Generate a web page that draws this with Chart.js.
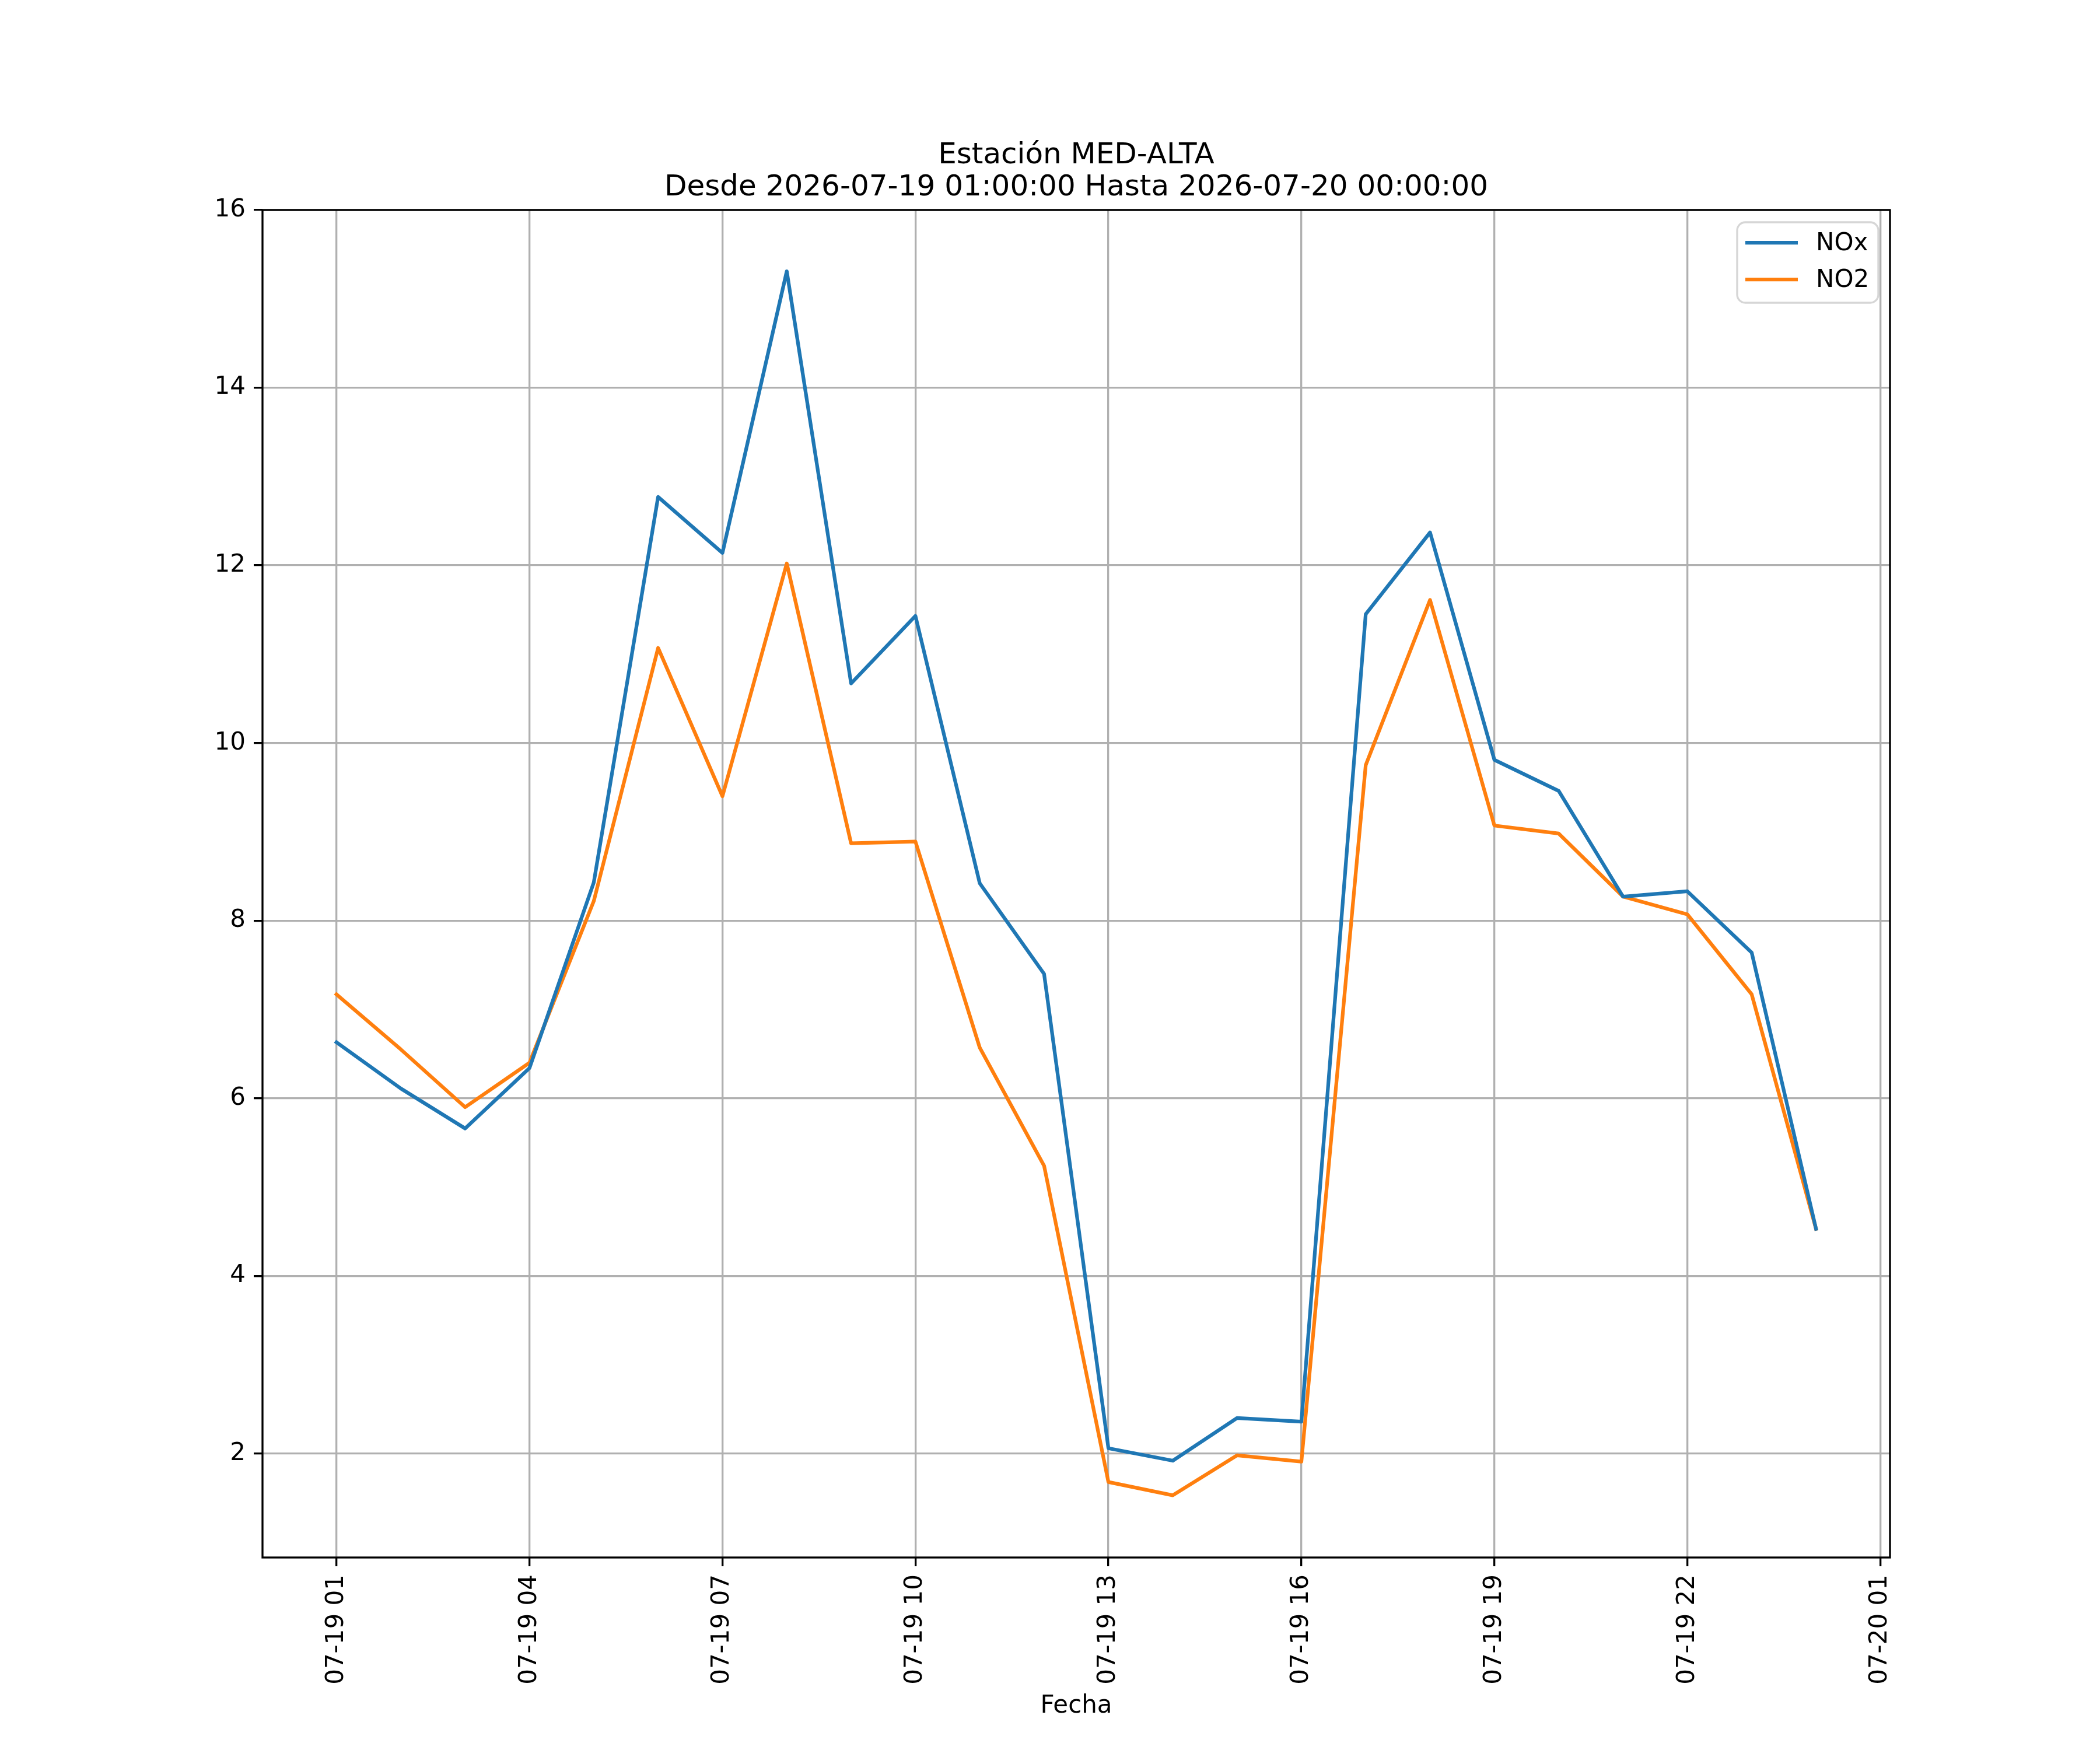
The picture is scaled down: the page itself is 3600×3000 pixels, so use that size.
<!DOCTYPE html>
<html>
<head>
<meta charset="utf-8">
<script src="https://cdn.jsdelivr.net/npm/chart.js@4/dist/chart.umd.min.js"></script>
<style>
  html, body { margin: 0; padding: 0; background: #fff; }
  canvas { display: block; }
</style>
</head>
<body>
<canvas id="chart" width="3600" height="3000" style="width:3600px;height:3000px"></canvas>
<script>
// hours since 2026-07-19 00:00
const horas = [1, 2, 3, 4, 5, 6, 7, 8, 9, 10, 11, 12, 13, 14, 15, 16, 17, 18, 19, 20, 21, 22, 23, 24];
const nox = [6.63, 6.11, 5.66, 6.34, 8.43, 12.77, 12.14, 15.31, 10.67, 11.43, 8.42, 7.40,
             2.06, 1.92, 2.40, 2.36, 11.45, 12.37, 9.81, 9.46, 8.27, 8.33, 7.64, 4.53];
const no2 = [7.17, 6.55, 5.90, 6.40, 8.22, 11.07, 9.40, 12.02, 8.87, 8.89, 6.57, 5.24,
             1.68, 1.53, 1.98, 1.91, 9.75, 11.61, 9.07, 8.98, 8.27, 8.07, 7.17, 4.53];
const tickHoras = [1, 4, 7, 10, 13, 16, 19, 22, 25];
const tickLabels = ["07-19 01", "07-19 04", "07-19 07", "07-19 10", "07-19 13",
                    "07-19 16", "07-19 19", "07-19 22", "07-20 01"];
const yTicks = [2, 4, 6, 8, 10, 12, 14, 16];
const titleLines = ["Estación MED-ALTA", "Desde 2026-07-19 01:00:00 Hasta 2026-07-20 00:00:00"];

const FONT = "'DejaVu Sans', sans-serif";
const LW = 3.33;

const toPoints = vals => horas.map((h, i) => ({ x: h, y: vals[i] }));

const framePlugin = {
  id: "frame",
  afterDatasetsDraw(chart) {
    const { ctx, chartArea: a } = chart;
    ctx.save();
    ctx.strokeStyle = "#000";
    ctx.lineWidth = LW;
    ctx.lineJoin = "miter";
    ctx.strokeRect(a.left, a.top, a.right - a.left, a.bottom - a.top);

    // legend, upper right
    const items = chart.data.datasets;
    const bx = 2978, by = 381, bw = 242, bh = 138, r = 14;
    ctx.fillStyle = "rgba(255,255,255,0.8)";
    ctx.strokeStyle = "#d6d6d6";
    ctx.lineWidth = LW;
    ctx.beginPath();
    ctx.roundRect(bx, by, bw, bh, r);
    ctx.fill();
    ctx.stroke();
    ctx.font = "42px " + FONT;
    ctx.textBaseline = "middle";
    ctx.textAlign = "left";
    items.forEach((ds, i) => {
      const y = 416 + i * 63;
      ctx.strokeStyle = ds.borderColor;
      ctx.lineWidth = 6.25;
      ctx.lineCap = "butt";
      ctx.beginPath();
      ctx.moveTo(2992, y);
      ctx.lineTo(3082, y);
      ctx.stroke();
      ctx.fillStyle = "#000";
      ctx.fillText(ds.label, 3113, y + 2);
    });

    // title
    ctx.font = "50px " + FONT;
    ctx.textAlign = "center";
    ctx.textBaseline = "alphabetic";
    const cx = (a.left + a.right) / 2;
    ctx.fillText(titleLines[0], cx, 280);
    ctx.fillText(titleLines[1], cx, 335);
    ctx.restore();
  }
};

new Chart(document.getElementById("chart"), {
  type: "line",
  data: {
    datasets: [
      { label: "NOx", data: toPoints(nox), borderColor: "#1f77b4" },
      { label: "NO2", data: toPoints(no2), borderColor: "#ff7f0e" }
    ]
  },
  options: {
    responsive: false,
    animation: false,
    devicePixelRatio: 1,
    layout: { padding: { left: 0, top: 360, right: 360, bottom: 0 } },
    elements: {
      line: { borderWidth: 6.25, tension: 0, fill: false, borderJoinStyle: "round", borderCapStyle: "square" },
      point: { radius: 0, hoverRadius: 0 }
    },
    plugins: { legend: { display: false }, title: { display: false }, tooltip: { enabled: false } },
    scales: {
      x: {
        type: "linear",
        min: horas[0] - 1.15,
        max: horas[horas.length - 1] + 1.15,
        afterFit(s) { s.height = 330; },
        afterBuildTicks(s) { s.ticks = tickHoras.map(v => ({ value: v })); },
        border: { display: false },
        grid: { color: "#b0b0b0", lineWidth: LW, tickColor: "#000", tickWidth: LW, tickLength: 15 },
        ticks: {
          autoSkip: false, minRotation: 90, maxRotation: 90, padding: 14,
          color: "#000", font: { family: FONT, size: 42 },
          callback: v => tickLabels[tickHoras.indexOf(v)]
        },
        title: {
          display: true, text: "Fecha", color: "#000",
          font: { family: FONT, size: 42 }, padding: { top: 0, bottom: 50 }
        }
      },
      y: {
        min: 0.83,
        max: 16.0,
        afterFit(s) { s.width = 450; },
        afterBuildTicks(s) { s.ticks = yTicks.map(v => ({ value: v })); },
        border: { display: false },
        grid: { color: "#b0b0b0", lineWidth: LW, tickColor: "#000", tickWidth: LW, tickLength: 15 },
        ticks: { padding: 14, color: "#000", font: { family: FONT, size: 42 }, callback: v => String(v) }
      }
    }
  },
  plugins: [framePlugin]
});
</script>
</body>
</html>
